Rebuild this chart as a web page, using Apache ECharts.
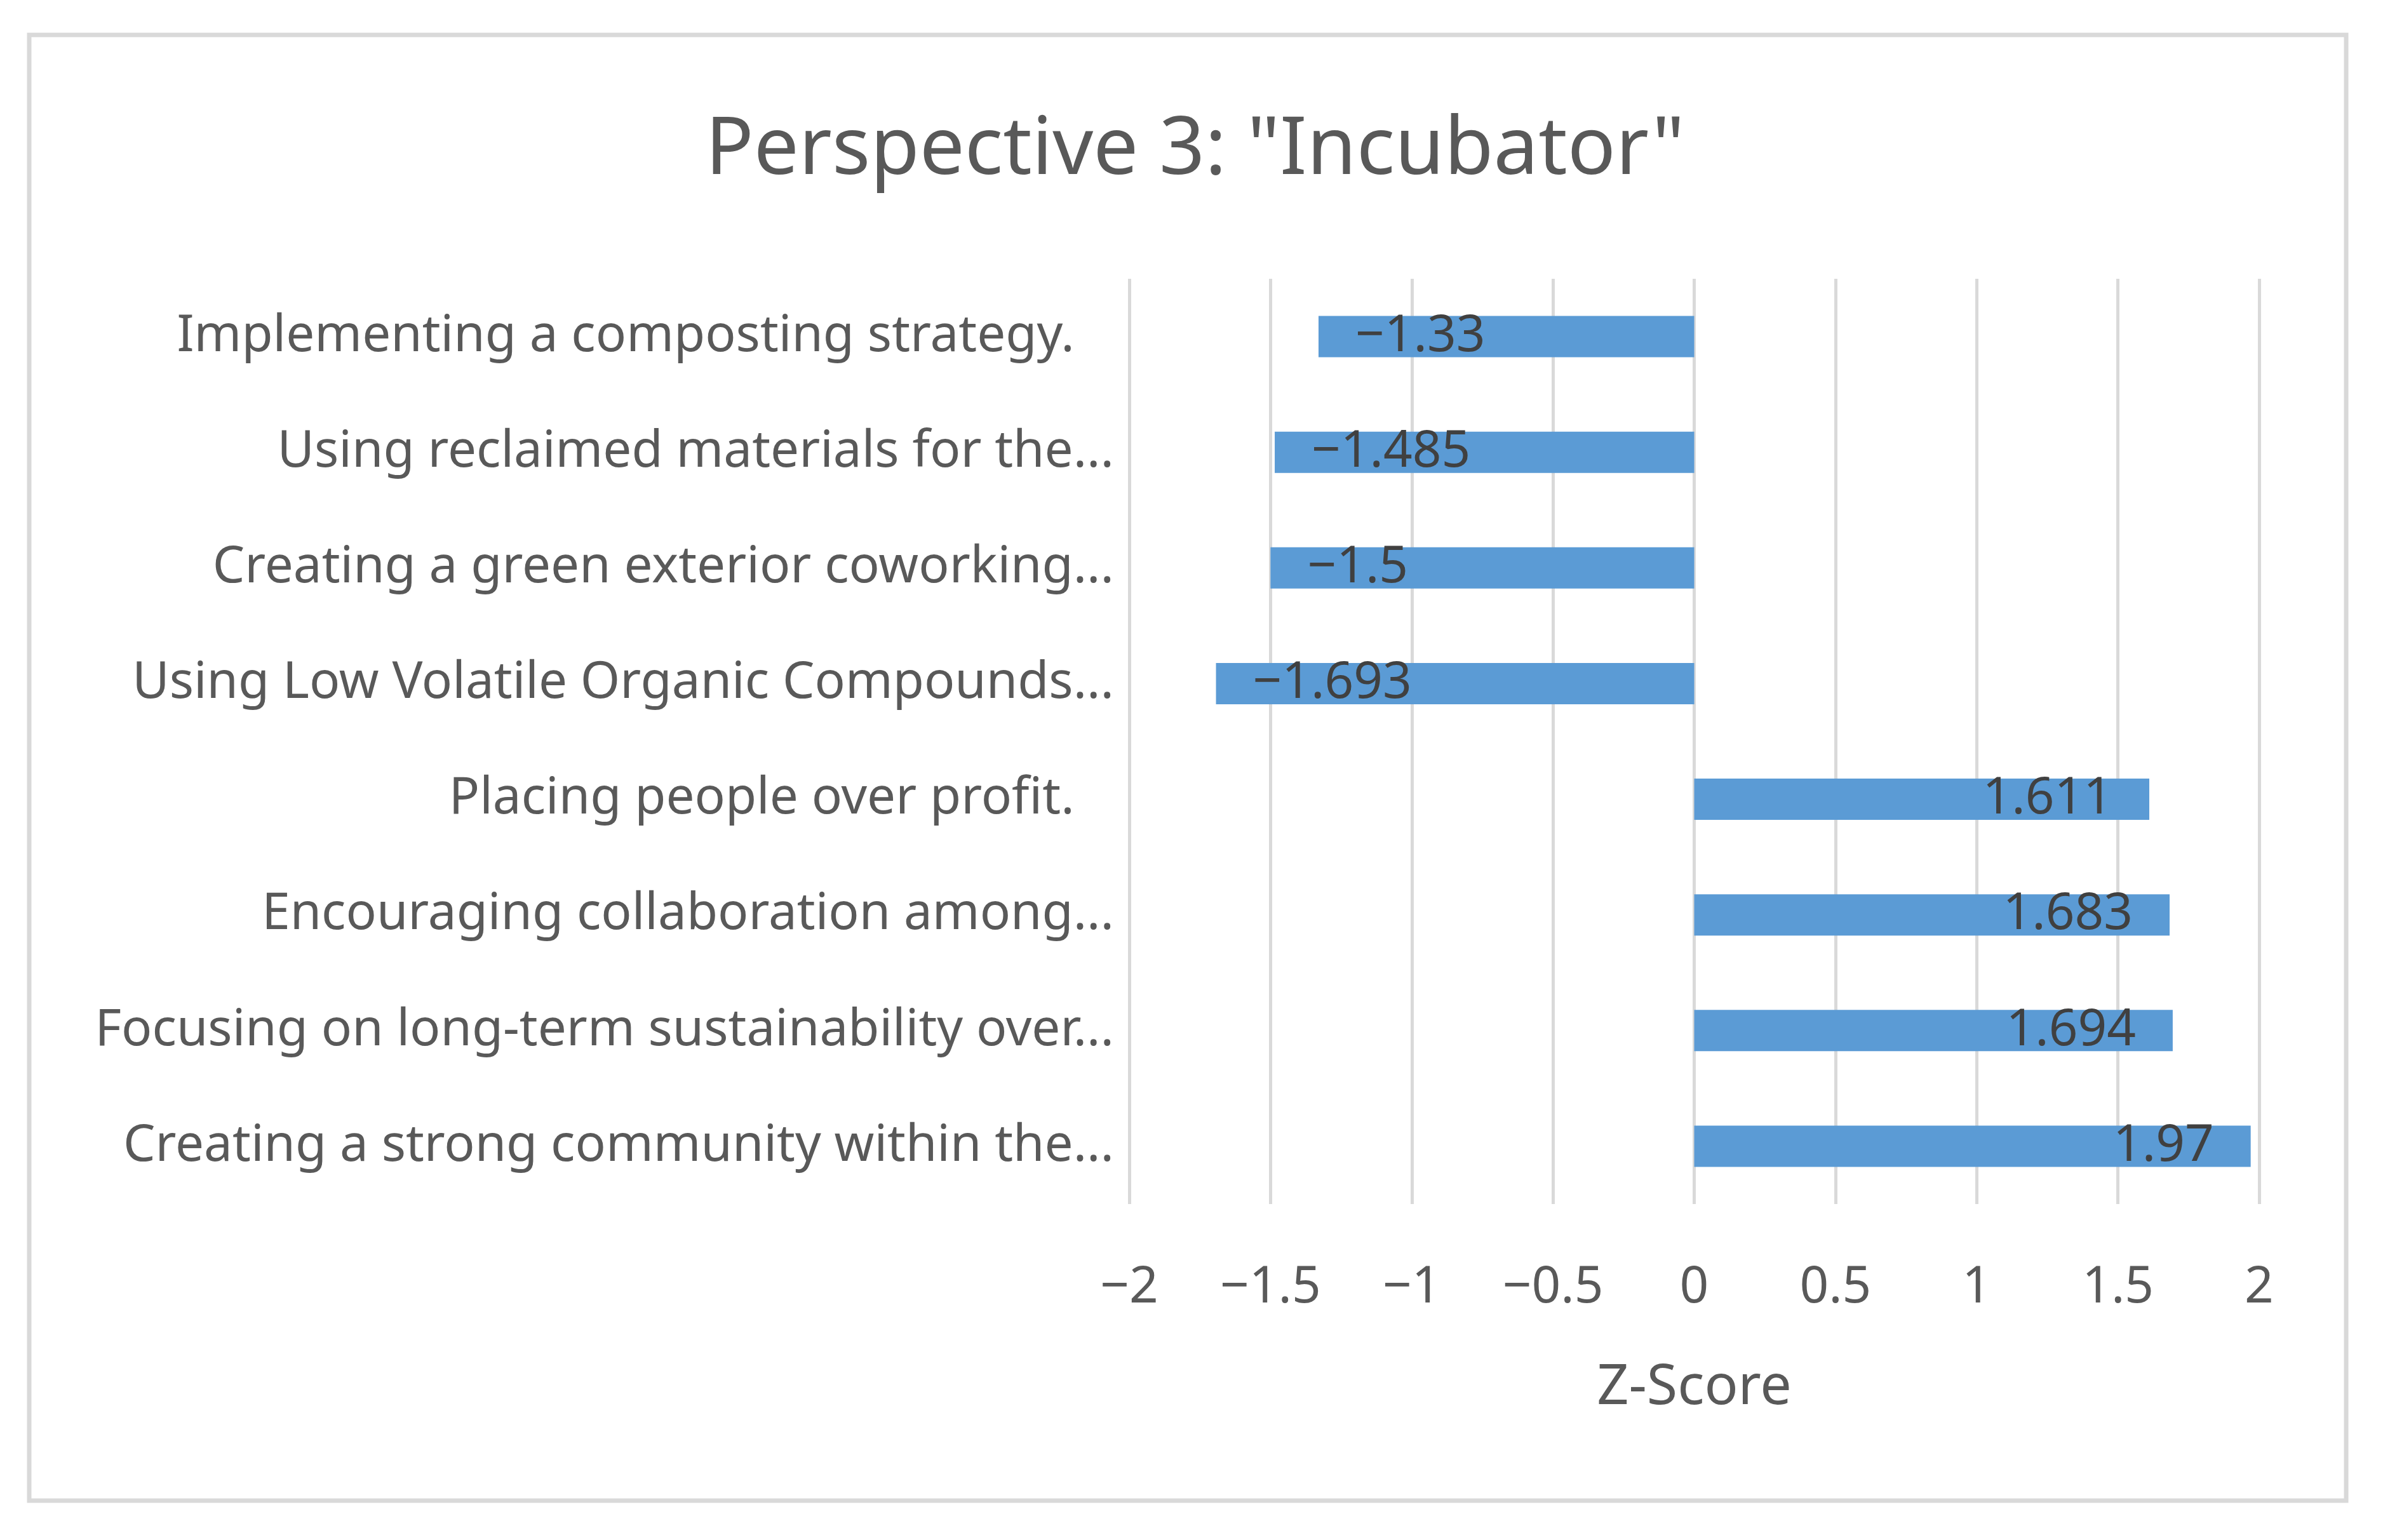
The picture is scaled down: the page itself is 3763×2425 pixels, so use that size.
<!DOCTYPE html>
<html>

<head>
  <meta charset="utf-8">
  <title>Perspective 3: "Incubator"</title>
  <script type="text/javascript" src="https://cdn.jsdelivr.net/npm/echarts@6/dist/echarts.min.js"></script>
  <style>
    html,body {
      margin: 0;
      padding: 0;
      background: #fff;
    }
  </style>
</head>

<body>
  <div id="main" style="width: 3763px;height:2425px;"></div>
  <script>
    // top to bottom, as in the picture
    var categories = [
      'Implementing a composting strategy.   ',
      'Using reclaimed materials for the...',
      'Creating a green exterior coworking...',
      'Using Low Volatile Organic Compounds...',
      'Placing people over profit.   ',
      'Encouraging collaboration among...',
      'Focusing on long-term sustainability over...',
      'Creating a strong community within the...'
    ];
    var zScores = [-1.33, -1.485, -1.5, -1.693, 1.611, 1.683, 1.694, 1.97];

    var font = '"Noto Sans", sans-serif';
    var grey = '#595959';

    function minus(v) {
      return String(v).replace('-', '\u2212');
    }

    var chart = echarts.init(document.getElementById('main'));

    var data = zScores.map(function (v) {
      return {
        value: v,
        label: { position: v < 0 ? 'insideLeft' : 'insideRight' }
      };
    });

    var option = {
      backgroundColor: '#fff',
      animation: false,
      title: {
        text: 'Perspective 3: "Incubator"',
        left: 'center',
        top: 170,
        textStyle: {
          color: grey,
          fontFamily: font,
          fontWeight: 'normal',
          fontSize: 126
        }
      },
      graphic: [{
        type: 'rect',
        shape: { x: 46, y: 55, width: 3648, height: 2308 },
        style: { fill: null, stroke: '#d9d9d9', lineWidth: 7 }
      }],
      grid: {
        left: 1778,
        right: 206,
        top: 439,
        bottom: 529
      },
      xAxis: {
        type: 'value',
        min: -2,
        max: 2,
        interval: 0.5,
        name: 'Z-Score',
        nameLocation: 'middle',
        nameGap: 246,
        nameTextStyle: { color: grey, fontFamily: font, fontSize: 88 },
        axisLine: { show: false },
        axisTick: { show: false },
        axisLabel: {
          color: grey,
          fontFamily: font,
          fontSize: 80,
          margin: 92,
          formatter: minus
        },
        splitLine: { lineStyle: { color: '#d9d9d9', width: 5 } }
      },
      yAxis: {
        type: 'category',
        inverse: true,
        data: categories,
        axisLine: { show: false },
        axisTick: { show: false },
        axisLabel: {
          color: grey,
          fontFamily: font,
          fontSize: 80,
          margin: 24,
          padding: [8, 0, 0, 0]
        }
      },
      series: [{
        type: 'bar',
        barWidth: 65,
        itemStyle: { color: '#5b9bd5' },
        label: {
          show: true,
          distance: 58,
          color: '#404040',
          fontFamily: font,
          fontSize: 80,
          formatter: function (p) { return minus(p.value); }
        },
        data: data
      }]
    };
    chart.setOption(option);
  </script>
</body>

</html>
